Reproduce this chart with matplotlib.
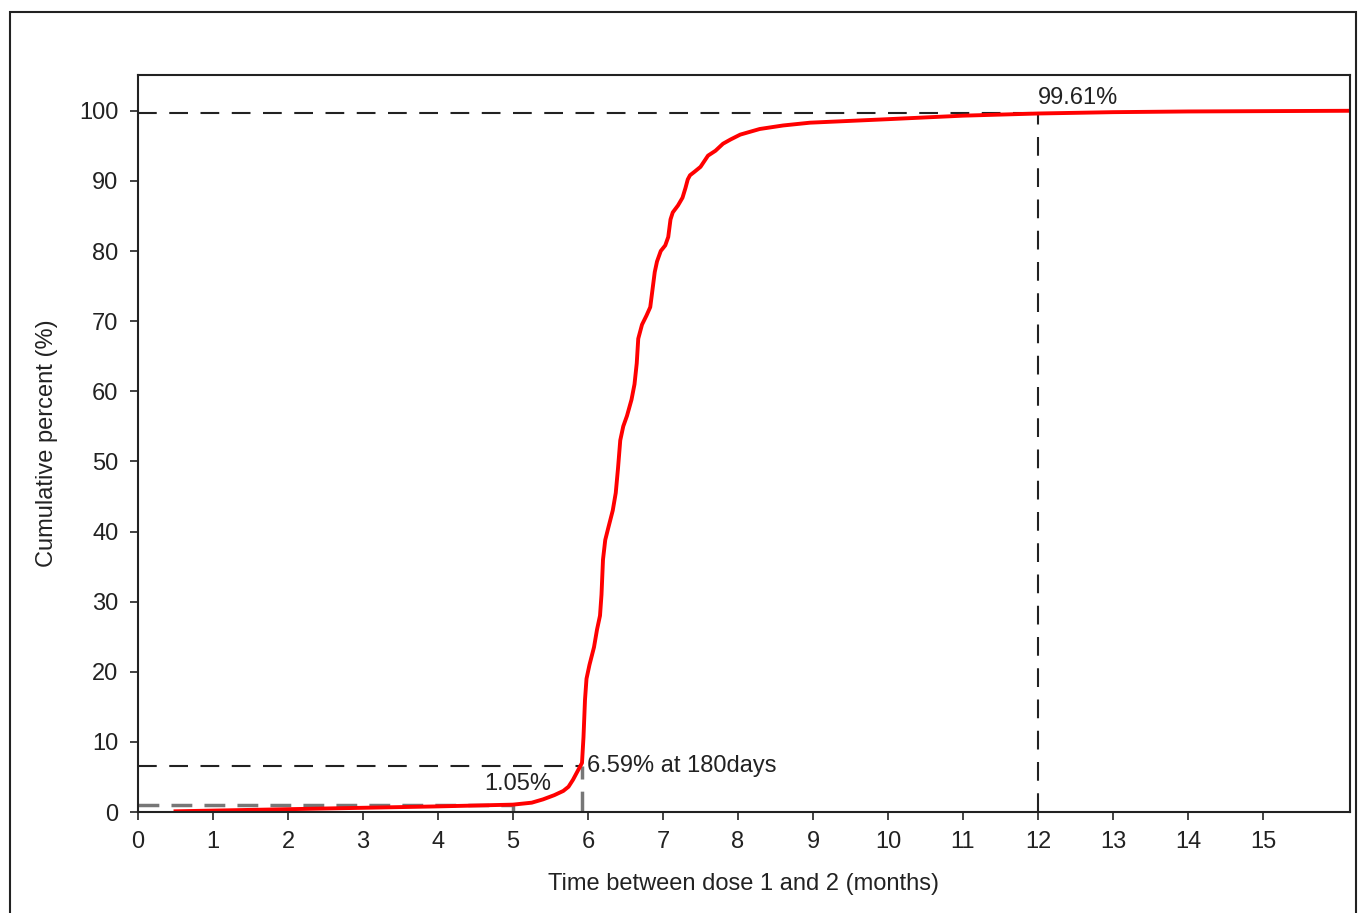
import matplotlib
matplotlib.use("Agg")
import matplotlib.pyplot as plt
from matplotlib.patches import Rectangle

# cumulative percent curve
months = [0.5, 2.0, 3.0, 4.0, 5.0, 5.25, 5.4, 5.55, 5.67, 5.74, 5.8, 5.86, 5.92,
          5.94, 5.96, 5.98, 6.02, 6.08, 6.12, 6.16, 6.18, 6.2, 6.23, 6.27, 6.33,
          6.37, 6.4, 6.43, 6.47, 6.52, 6.58, 6.62, 6.65, 6.67, 6.72, 6.78, 6.83,
          6.86, 6.89, 6.92, 6.97, 7.03, 7.07, 7.1, 7.13, 7.2, 7.26, 7.3, 7.33,
          7.36, 7.42, 7.5, 7.55, 7.6, 7.7, 7.8, 7.9, 8.03, 8.29, 8.6, 8.96, 10.0,
          11.0, 12.0, 13.0, 14.0, 16.2]
cum_pct = [0.1, 0.4, 0.6, 0.8, 1.05, 1.33, 1.8, 2.4, 3.0, 3.6, 4.6, 5.8, 7.0,
           10.7, 16.0, 19.0, 21.0, 23.5, 26.0, 28.0, 31.0, 36.0, 38.8, 40.5, 43.0,
           45.5, 49.0, 53.0, 55.0, 56.5, 58.8, 61.0, 64.0, 67.5, 69.5, 70.8, 72.0,
           74.5, 77.0, 78.5, 80.0, 80.8, 82.0, 84.5, 85.5, 86.5, 87.6, 89.0, 90.2,
           90.8, 91.3, 92.0, 92.8, 93.6, 94.3, 95.3, 95.9, 96.6, 97.4, 97.9, 98.3,
           98.8, 99.3, 99.61, 99.8, 99.9, 100.0]

x_ticks = list(range(0, 16))
y_ticks = list(range(0, 101, 10))

p_early, x_early = 1.05, 5.0
p_180, x_180 = 6.59, 180 / 30.4
p_12, x_12 = 99.61, 12.0

plt.rcParams["font.family"] = ["Liberation Sans", "DejaVu Sans"]
INK = "#222222"
FS = 17

fig = plt.figure(figsize=(13.58, 9.13), dpi=100)
fig.patches.append(Rectangle((10 / 1358, -0.05), (1356 - 10) / 1358, 1.05 - 12 / 913,
                             transform=fig.transFigure, fill=False,
                             edgecolor=INK, linewidth=1.5))
ax = fig.add_axes([138 / 1358, 1 - 812 / 913, (1350 - 138) / 1358, (812 - 75) / 913])

dash = (0, (9, 6))
gdash = (0, (6, 3.5))
ax.plot([0, x_12], [p_12, p_12], color=INK, lw=1.5, linestyle=dash)
ax.plot([x_12, x_12], [0, p_12], color=INK, lw=1.5, linestyle=dash)
ax.plot([0, x_180], [p_180, p_180], color=INK, lw=1.5, linestyle=dash)
ax.plot([x_180, x_180], [0, p_180], color="#777777", lw=2.5, linestyle=gdash)
ax.plot([0, x_early], [p_early, p_early], color="#777777", lw=2.5, linestyle=gdash)
ax.plot([x_early, x_early], [0, p_early], color="#777777", lw=2.5)

ax.plot(months, cum_pct, color="#ff0000", lw=2.8, solid_joinstyle="round")

ax.text(x_12, p_12 + 0.7, f"{p_12:.2f}%", fontsize=FS, color=INK,
        ha="left", va="bottom")
ax.text(x_180 + 0.07, p_180, f"{p_180:.2f}% at 180days", fontsize=FS,
        color=INK, ha="left", va="center")
ax.text(x_early + 0.07, p_early + 1.4, f"{p_early:.2f}%", fontsize=FS,
        color=INK, ha="center", va="bottom")

ax.set_xlim(0, 16.16)
ax.set_ylim(0, 105.1)
ax.set_xticks(x_ticks)
ax.set_yticks(y_ticks)
ax.tick_params(direction="out", length=6, width=1.2, labelsize=FS,
               colors=INK, pad=8)
for s in ax.spines.values():
    s.set_linewidth(1.5)
    s.set_color(INK)
ax.set_xlabel("Time between dose 1 and 2 (months)", fontsize=FS, labelpad=14,
              color=INK)
ax.set_ylabel("Cumulative percent (%)", fontsize=FS, labelpad=15, color=INK)

fig.savefig("out.png", dpi=100, facecolor="white")
